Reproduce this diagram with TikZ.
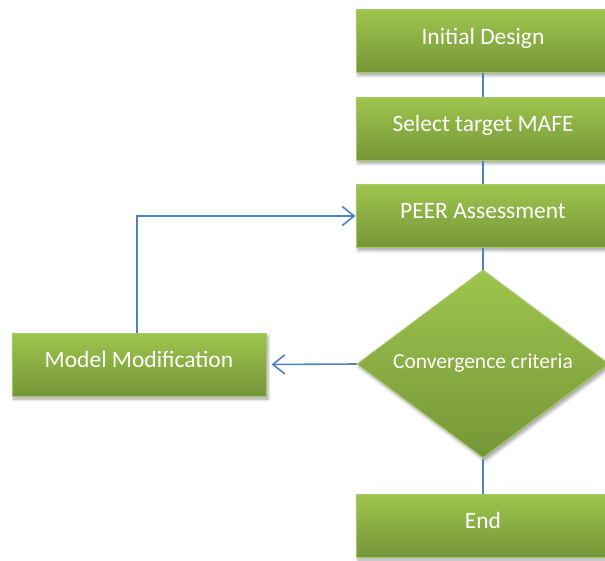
\documentclass[tikz,border=0pt]{standalone}
\usepackage{fontspec}
\setmainfont{Carlito}
\usetikzlibrary{arrows.meta,shapes.geometric,shadows.blur}

\definecolor{greentop}{RGB}{158,197,78}
\definecolor{greenbot}{RGB}{117,150,56}
\definecolor{greenedge}{RGB}{166,200,104}
\definecolor{linkblue}{RGB}{79,129,189}

% place a label's baseline at a fixed offset from the shape centre
\newcommand{\lifted}[2]{\raisebox{#1}[0pt][0pt]{#2}}

\tikzset{
  stepbox/.style={rectangle, draw=greenedge, line width=1pt,
    top color=greentop, bottom color=greenbot,
    minimum width=254pt, minimum height=63pt, inner sep=0pt,
    text=white, font=\fontsize{23.5}{26}\selectfont,
    blur shadow={shadow xshift=2pt, shadow yshift=-3pt, shadow blur radius=3pt, shadow opacity=35}},
  decision/.style={diamond, draw=greenedge, line width=1pt,
    top color=greentop, bottom color=greenbot,
    minimum width=252pt, minimum height=188pt, inner sep=0pt, aspect=1.34,
    text=white, font=\fontsize{21.5}{24}\selectfont,
    blur shadow={shadow xshift=2pt, shadow yshift=-3pt, shadow blur radius=3pt, shadow opacity=35}},
  link/.style={draw=linkblue, line width=1.6pt},
  arrowlink/.style={link, -{Straight Barb[length=12pt,width=19pt,line width=1.6pt]}}
}

\begin{document}
\begin{tikzpicture}[x=1pt, y=-1pt]
  \clip (0,0) rectangle (605,560);

  \node[stepbox] (init)  at (483,41)    {\lifted{-3pt}{Initial Design}};
  \node[stepbox] (sel)   at (483,129)   {\lifted{-2.7pt}{Select target MAFE}};
  \node[stepbox] (peer)  at (483,216)   {\lifted{-2.5pt}{PEER Assessment}};
  \node[decision] (conv) at (483,364)   {\lifted{-4.3pt}{Convergence criteria}};
  \node[stepbox] (fin)   at (483,525.5) {\lifted{-2.8pt}{End}};
  \node[stepbox] (model) at (139,364.5) {\lifted{-2.5pt}{Model Modification}};

  \coordinate (bend) at (137,216);

  \draw[link] (init.south) -- (sel.north);
  \draw[link] (sel.south) -- (peer.north);
  \draw[link] (peer.south) -- (conv.north);
  \draw[link] (conv.south) -- (fin.north);
  \draw[arrowlink, shorten >=5pt] (conv.west) -- (model.east);
  \draw[arrowlink] (model.north -| bend) -- (bend) -- (peer.west);
\end{tikzpicture}
\end{document}
